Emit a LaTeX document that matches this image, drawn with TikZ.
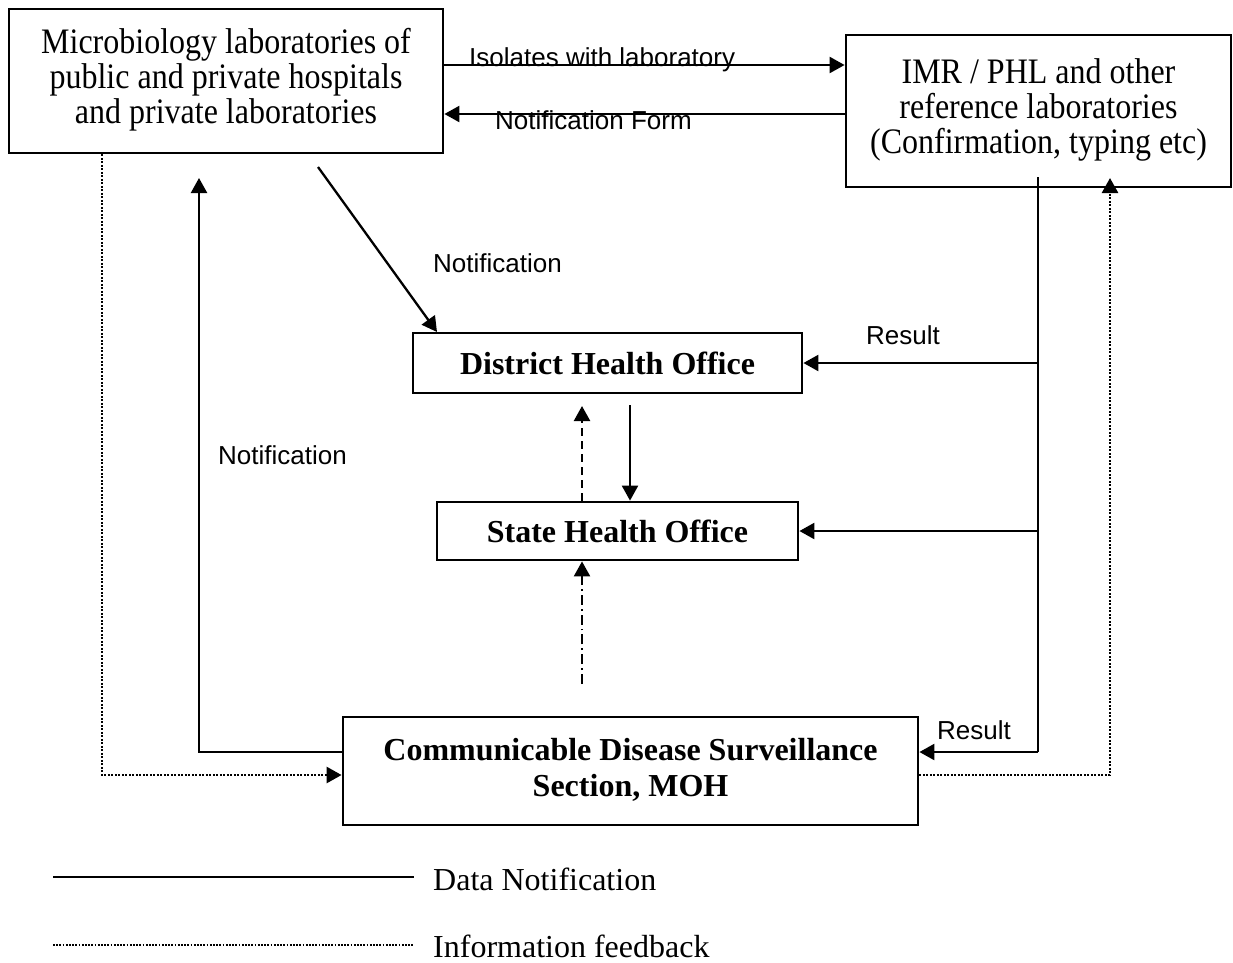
\documentclass[tikz,border=0pt]{standalone}
\usepackage{fontspec}
\usepackage{graphicx}
\setmainfont{Liberation Serif}
\newfontfamily\labelfont{Liberation Sans}
\usetikzlibrary{arrows.meta,calc}

% a stacked, slightly tall multi-line caption for the big boxes
\newcommand\tallstack[2]{\scalebox{1}[1.12]{\fontsize{32}{#1}\selectfont\begin{tabular}{@{}c@{}}#2\end{tabular}}}

\tikzset{
  box/.style={draw, line width=2.8pt, inner sep=0pt},
  boldbox/.style={box, font=\fontsize{32}{36}\selectfont\bfseries},
  flow/.style={line width=2.3pt, -{Triangle[length=15pt,width=16pt]}},
  feedback/.style={flow, line width=2.6pt, dash pattern=on 2pt off 1.5pt},
  upward/.style={flow, dash pattern=on 8pt off 5pt},
  dashdot/.style={flow, dash pattern=on 10pt off 4pt on 1.8pt off 4pt},
  lbl/.style={font=\labelfont\fontsize{26}{30}\selectfont, inner sep=0pt, anchor=base west},
  legendtxt/.style={font=\fontsize{32}{36}\selectfont, inner sep=0pt, anchor=base west},
}

\begin{document}
\begin{tikzpicture}[x=1pt, y=-1pt]
\useasboundingbox (0,0) rectangle (1233,962);

% boxes
\node[box, minimum width=434pt, minimum height=144pt] (micro) at (226,81)
  {\tallstack{30.5}{Microbiology laboratories of\\public and private hospitals\\and private laboratories}};
\node[box, minimum width=385pt, minimum height=152pt] (imr) at (1038.5,111)
  {\tallstack{28.5}{IMR / PHL and other\\reference laboratories\\(Confirmation, typing etc)}};
\node[boldbox, minimum width=389pt, minimum height=60pt] (dho) at (607.5,363) {District Health Office};
\node[boldbox, minimum width=361pt, minimum height=58pt] (sho) at (617.5,531) {State Health Office};
\node[boldbox, minimum width=575pt, minimum height=108pt] (cds) at (630.5,771)
  {\begin{tabular}{@{}c@{}}Communicable Disease Surveillance\\Section, MOH\end{tabular}};

% helper coordinates for the connector routes
\coordinate (isoY) at (0,65);
\coordinate (formY) at (0,114);
\coordinate (diagS) at (318,167);
\coordinate (diagE) at (437,332);
\coordinate (resX) at (1038,177);
\coordinate (notX) at (199,178);
\coordinate (fbL) at (102,0);
\coordinate (fbR) at (1110,178);
\coordinate (cdsN) at (0,752);
\coordinate (cdsF) at (0,775);
\coordinate (downX) at (630,405);
\coordinate (upX) at (582,406);
\coordinate (ddX) at (582,684);

% between the laboratories
\draw[flow] (micro.east |- isoY) -- (imr.west |- isoY);
\draw[flow] (imr.west |- formY) -- (micro.east |- formY);
\node[lbl] (isoL) at (469,66) {Isolates with laboratory};
\node[lbl] (formL) at (495,129) {Notification Form};

% notification to district
\draw[flow] (diagS) -- (diagE);
\node[lbl] (notL1) at (433,272) {Notification};

% district / state
\draw[flow] (downX) -- (downX |- sho.north);
\draw[upward] (upX |- sho.north) -- (upX);
\draw[dashdot] (ddX) -- (ddX |- sho.south);

% results from reference laboratories
\draw[line width=2.3pt] (resX) -- (resX |- cdsN);
\draw[flow] (resX |- cdsN) -- (cds.east |- cdsN);
\draw[flow] (resX |- dho.east) -- (dho.east);
\draw[flow] (resX |- sho.east) -- (sho.east);
\node[lbl] (resL1) at (866,344) {Result};
\node[lbl] (resL2) at (937,739) {Result};

% notification back to the laboratories
\draw[flow] (cds.west |- cdsN) -| (notX);
\node[lbl] (notL2) at (218,464) {Notification};

% information feedback
\draw[feedback] (fbL |- micro.south) -- (fbL |- cdsF) -- (cds.west |- cdsF);
\draw[feedback] (cds.east |- cdsF) -| (fbR);

% legend
\coordinate (legA) at (53,877);
\coordinate (legB) at (414,877);
\coordinate (legC) at (53,945);
\coordinate (legD) at (414,945);
\draw[line width=2.5pt] (legA) -- (legB);
\draw[line width=1.8pt, dash pattern=on 1.7pt off 1.5pt] (legC) -- (legD);
\node[legendtxt] (legT1) at (433,890) {Data Notification};
\node[legendtxt] (legT2) at (433,957) {Information feedback};
\end{tikzpicture}
\end{document}
